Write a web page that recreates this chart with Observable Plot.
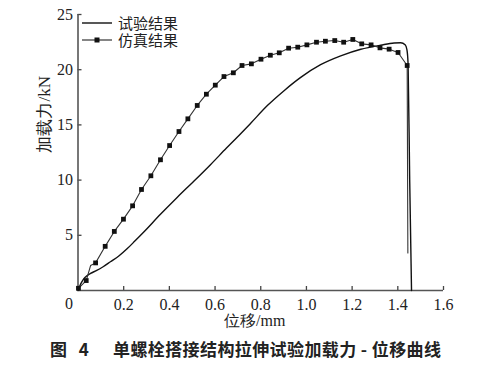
<!DOCTYPE html>
<html>
<head>
<meta charset="utf-8">
<script src="https://cdn.jsdelivr.net/npm/d3@7"></script>
<script src="https://cdn.jsdelivr.net/npm/@observablehq/plot@0.6"></script>
<style>
  html, body { margin: 0; padding: 0; background: #fff; }
  #wrap { position: relative; width: 496px; }
  #chart svg text { font-family: "Liberation Serif", "DejaVu Serif", serif; }
  #legend { position: absolute; left: 82px; top: 15px; font-family: "Noto Sans CJK SC", sans-serif; font-size: 15px; line-height: 15px; color: #222; }
  #legend .row { display: flex; align-items: center; height: 15px; line-height: 15px; margin-bottom: 2px; }
  #legend svg { margin-right: 6px; display: block; }
  #caption { font-family: "Noto Sans CJK SC", sans-serif; font-size: 17px; font-weight: 700; color: #222; padding-left: 50px; margin-top: 4px; white-space: pre; letter-spacing: 0.4px; }
  #caption .fig { display: inline-block; width: 63px; letter-spacing: 4px; }
</style>
</head>
<body>
<div id="wrap">
  <div id="chart"></div>
  <div id="legend">
    <div class="row"><svg width="30" height="10"><line x1="0" x2="30" y1="5" y2="5" stroke="#111" stroke-width="1.4"/></svg><span>试验结果</span></div>
    <div class="row"><svg width="30" height="10"><line x1="0" x2="30" y1="5" y2="5" stroke="#333" stroke-width="1.2"/><rect x="12.5" y="2.5" width="5" height="5" fill="#111"/></svg><span>仿真结果</span></div>
  </div>
  <div id="caption"><span class="fig">图 4</span>单螺栓搭接结构拉伸试验加载力 - 位移曲线</div>
</div>
<script>
// Test (experiment) curve
const testX = [0, 0.012, 0.025, 0.04, 0.055, 0.08, 0.11, 0.142, 0.18, 0.216, 0.25, 0.288, 0.361, 0.435, 0.507, 0.58, 0.65, 0.712, 0.756, 0.829, 0.902, 0.975, 1.062, 1.15, 1.238, 1.325, 1.384, 1.413, 1.432, 1.440, 1.445, 1.452, 1.46];
const testY = [0, 0.6, 1.06, 1.35, 1.55, 1.8, 2.15, 2.6, 3.15, 3.8, 4.5, 5.3, 6.9, 8.45, 9.9, 11.4, 12.9, 14.2, 15.15, 16.75, 18.1, 19.3, 20.45, 21.25, 21.85, 22.22, 22.42, 22.44, 22.25, 21.8, 20.5, 10, 0];

// Simulation markers
const simX = [0.002, 0.036, 0.077, 0.119, 0.159, 0.199, 0.239, 0.278, 0.319, 0.361, 0.401, 0.442, 0.481, 0.522, 0.562, 0.601, 0.639, 0.680, 0.718, 0.759, 0.801, 0.842, 0.881, 0.922, 0.962, 1.002, 1.044, 1.083, 1.124, 1.163, 1.203, 1.242, 1.283, 1.322, 1.362, 1.401, 1.441];
const simY = [0.2, 0.9, 2.5, 4.0, 5.35, 6.46, 7.67, 9.15, 10.39, 11.84, 13.13, 14.4, 15.55, 16.76, 17.78, 18.6, 19.38, 19.72, 20.38, 20.53, 20.95, 21.31, 21.53, 21.95, 22.04, 22.25, 22.49, 22.58, 22.64, 22.49, 22.74, 22.34, 22.25, 21.98, 21.86, 21.56, 20.38];
// Simulation line (through markers, plus the final drop)
const simLineX = [0.002, 0.036, 0.055, 0.077, 0.119, 0.159, 0.199, 0.239, 0.278, 0.319, 0.361, 0.401, 0.442, 0.481, 0.522, 0.562, 0.601, 0.639, 0.680, 0.718, 0.759, 0.801, 0.842, 0.881, 0.922, 0.962, 1.002, 1.044, 1.083, 1.124, 1.163, 1.203, 1.242, 1.283, 1.322, 1.362, 1.401, 1.441, 1.444];
const simLineY = [0.2, 0.9, 2.26, 2.5, 4.0, 5.35, 6.46, 7.67, 9.15, 10.39, 11.84, 13.13, 14.4, 15.55, 16.76, 17.78, 18.6, 19.38, 19.72, 20.38, 20.53, 20.95, 21.31, 21.53, 21.95, 22.04, 22.25, 22.49, 22.58, 22.64, 22.49, 22.74, 22.34, 22.25, 21.98, 21.86, 21.56, 20.38, 3.4];

const xTicks = [0.2, 0.4, 0.6, 0.8, 1.0, 1.2, 1.4, 1.6];
const xTickLabels = ["0.2", "0.4", "0.6", "0.8", "1.0", "1.2", "1.4", "1.6"];
const yTicks = [5, 10, 15, 20, 25];
const origin = ["0"];
const xTitle = "位移/mm";
const yTitle = "加载力/kN";

const test = testX.map((x, i) => ({x, y: testY[i]}));
const simPts = simX.map((x, i) => ({x, y: simY[i]}));
const simLine = simLineX.map((x, i) => ({x, y: simLineY[i]}));

const chart = Plot.plot({
  width: 496,
  height: 332,
  marginLeft: 77.5,
  marginRight: 53,
  marginTop: 14,
  marginBottom: 42,
  style: "font-size: 16px; color: #222; background: #fff;",
  x: { domain: [0, 1.6] },
  y: { domain: [0, 25] },
  marks: [
    Plot.axisX(xTicks, { tickSize: -4, tickPadding: 12, tickFormat: d => xTickLabels[xTicks.indexOf(d)], label: null, stroke: "#444", strokeWidth: 1.3, fontSize: 16 }),
    Plot.axisY(yTicks, { tickSize: -4, tickPadding: 9, label: null, stroke: "#444", strokeWidth: 1.3, fontSize: 16 }),
    Plot.text(origin, { x: 0, y: 0, text: d => d, dx: -9, dy: 13, fontSize: 16 }),
    Plot.text([xTitle], { frameAnchor: "bottom", text: d => d, dx: -6, dy: 35.5, fontSize: 16 }),
    Plot.text([yTitle], { frameAnchor: "left", text: d => d, dx: -33, rotate: -90, fontSize: 17 }),
    Plot.ruleY([0], { stroke: "#555", strokeWidth: 1.6 }),
    Plot.ruleX([0], { stroke: "#555", strokeWidth: 1.6 }),
    Plot.line(test, { x: "x", y: "y", stroke: "#111", strokeWidth: 1.4, curve: "monotone-x" }),
    Plot.line(simLine, { x: "x", y: "y", stroke: "#333", strokeWidth: 1.1, curve: "linear" }),
    Plot.dot(simPts, { x: "x", y: "y", symbol: "square", r: 2.7, fill: "#111", stroke: "none" })
  ]
});
document.getElementById("chart").appendChild(chart);
</script>
</body>
</html>
